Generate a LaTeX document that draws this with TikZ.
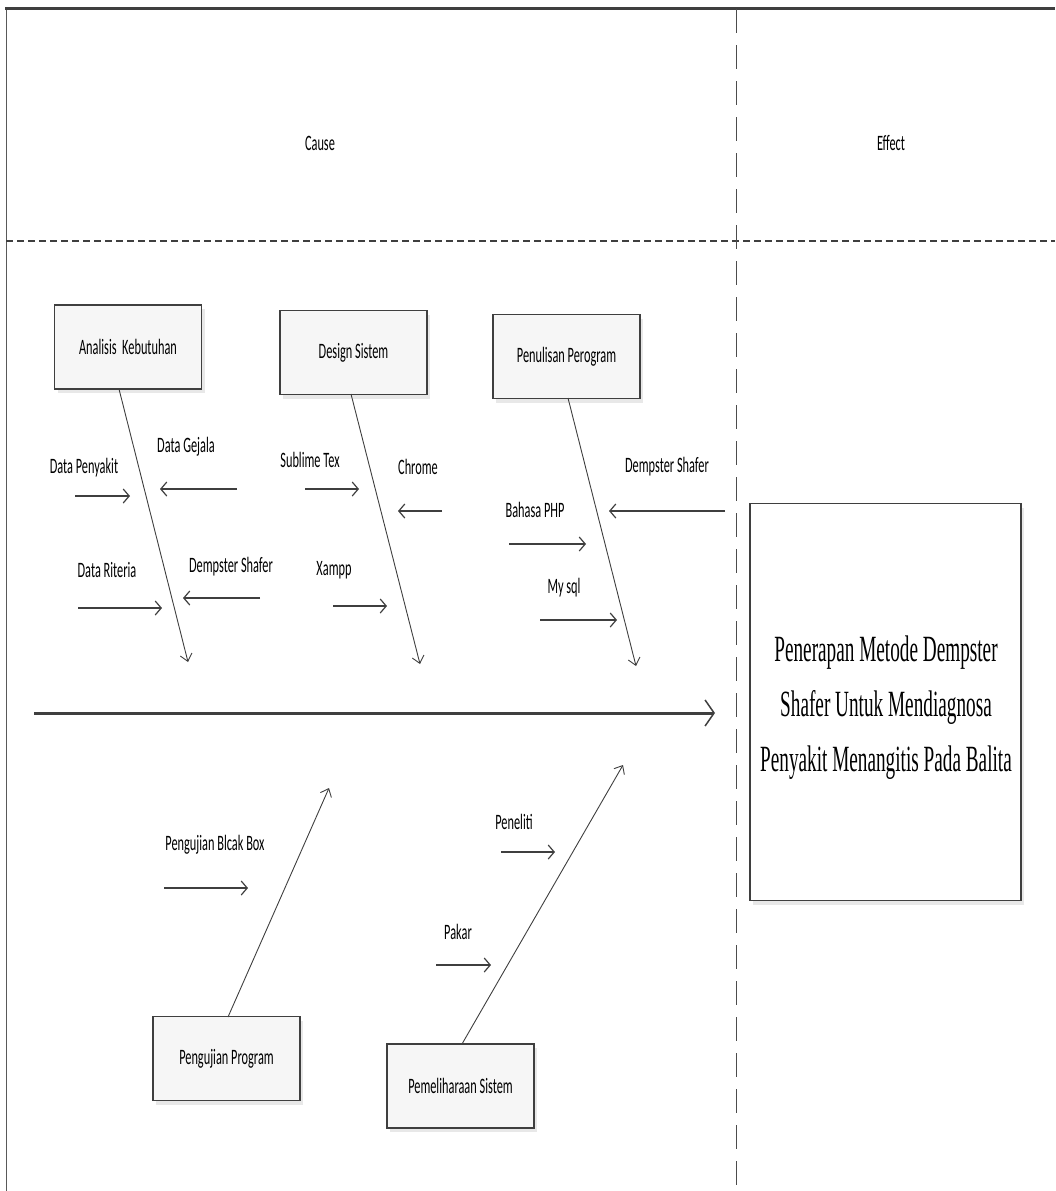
\documentclass[tikz,border=0pt]{standalone}
\usepackage{fontspec}
\setmainfont{Carlito}[FakeStretch=0.56]
\newfontfamily\effectfont{Liberation Serif}[FakeStretch=0.52]
\usetikzlibrary{arrows.meta,shadows}
\definecolor{linegray}{HTML}{3F3F3F}
\tikzset{
  bonebox/.style={draw=linegray, line width=1.6pt, fill=gray!7, minimum width=147pt, minimum height=84pt,
    inner sep=0pt, font=\fontsize{22}{26}\selectfont,
    drop shadow={opacity=0.18, shadow xshift=3pt, shadow yshift=-4pt}},
  lbl/.style={inner sep=0pt, font=\fontsize{22}{26}\selectfont},
  sub/.style={draw=linegray, line width=1.8pt, -{Straight Barb[length=6pt,width=14pt,line width=1.2pt]}},
  bone/.style={draw=linegray, line width=0.9pt, -{Straight Barb[length=7pt,width=12pt,line width=0.9pt]}},
  spine/.style={draw=linegray, line width=3pt, -{Straight Barb[length=9pt,width=26pt,line width=1.5pt]}},
}
\begin{document}
\begin{tikzpicture}[x=1pt,y=-1pt]
\useasboundingbox (0,0) rectangle (1055,1191);
% frame
\draw[gray!70!black, line width=1pt] (6,8) -- (6,1191);
\draw[linegray, line width=3pt] (5,8) -- (1055,8);
\draw[linegray, line width=2.4pt, dash pattern=on 7pt off 4pt] (6,241) -- (1055,241);
\draw[gray!60!black, line width=1pt, dash pattern=on 24pt off 12pt] (736,9) -- (736,1191);
\node[lbl] (cause) at (320,143) {Cause};
\node[lbl] (effect) at (891,143) {Effect};

% effect box
\node[draw=linegray, line width=1.6pt, fill=white, minimum width=271pt, minimum height=397pt, inner sep=0pt,
  drop shadow={opacity=0.18, shadow xshift=3pt, shadow yshift=-4pt}] (eff) at (885.5,702) {};
\node[inner sep=0pt, align=center, font=\effectfont\fontsize{37}{55}\selectfont] (efftext) at (886,708)
  {Penerapan Metode Dempster\\Shafer Untuk Mendiagnosa\\Penyakit Menangitis Pada Balita};

% spine
\coordinate (sp0) at (34,713);
\coordinate (sp1) at (715,713);
\draw[spine] (sp0) -- (sp1);

% top boxes
\node[bonebox] (ak) at (128,347) {Analisis\ \ Kebutuhan};
\node[bonebox] (ds) at (353.5,352.5) {Design Sistem};
\node[bonebox] (pp) at (566.5,356.5) {Penulisan Perogram};
\coordinate (akt) at (188,662);
\coordinate (dst) at (420,664);
\coordinate (ppt) at (636,666);
\draw[bone] (119,389) -- (akt);
\draw[bone] (351,394) -- (dst);
\draw[bone] (568,398) -- (ppt);

% bottom boxes
\node[bonebox] (pg) at (226.5,1058.5) {Pengujian Program};
\node[bonebox] (pm) at (460.5,1086) {Pemeliharaan Sistem};
\coordinate (pgt) at (329,788);
\coordinate (pmt) at (623,765);
\draw[bone] (228,1017) -- (pgt);
\draw[bone] (462,1044) -- (pmt);

% sub causes - Analisis Kebutuhan
\node[lbl] (l1) at (84,468) {Data Penyakit};
\coordinate (a1s) at (75,496); \coordinate (a1e) at (130,496);
\draw[sub] (a1s) -- (a1e);
\node[lbl] (l2) at (186,447) {Data Gejala};
\coordinate (a2s) at (237,489); \coordinate (a2e) at (160,489);
\draw[sub] (a2s) -- (a2e);
\node[lbl] (l3) at (107,570) {Data Riteria};
\coordinate (a3s) at (78,608); \coordinate (a3e) at (162,608);
\draw[sub] (a3s) -- (a3e);
\node[lbl] (l4) at (231,567) {Dempster Shafer};
\coordinate (a4s) at (260,598); \coordinate (a4e) at (183,598);
\draw[sub] (a4s) -- (a4e);

% Design Sistem
\node[lbl] (l5) at (310,460) {Sublime Tex};
\coordinate (a5s) at (305,489); \coordinate (a5e) at (359,489);
\draw[sub] (a5s) -- (a5e);
\node[lbl] (l6) at (418,467) {Chrome};
\coordinate (a6s) at (442,511); \coordinate (a6e) at (398,511);
\draw[sub] (a6s) -- (a6e);
\node[lbl] (l7) at (334,570) {Xampp};
\coordinate (a7s) at (333,606); \coordinate (a7e) at (387,606);
\draw[sub] (a7s) -- (a7e);

% Penulisan Perogram
\node[lbl] (l8) at (535,510) {Bahasa PHP};
\coordinate (a8s) at (509,544); \coordinate (a8e) at (586,544);
\draw[sub] (a8s) -- (a8e);
\node[lbl] (l9) at (564,588) {My sql};
\coordinate (a9s) at (540,620); \coordinate (a9e) at (617,620);
\draw[sub] (a9s) -- (a9e);
\node[lbl] (l10) at (667,467) {Dempster Shafer};
\coordinate (a10s) at (725,511); \coordinate (a10e) at (609,511);
\draw[sub] (a10s) -- (a10e);

% bottom
\node[lbl] (l11) at (215,845) {Pengujian Blcak Box};
\coordinate (a11s) at (164,888); \coordinate (a11e) at (248,888);
\draw[sub] (a11s) -- (a11e);
\node[lbl] (l12) at (514,822) {Peneliti};
\coordinate (a12s) at (501,852); \coordinate (a12e) at (555,852);
\draw[sub] (a12s) -- (a12e);
\node[lbl] (l13) at (458,932) {Pakar};
\coordinate (a13s) at (436,965); \coordinate (a13e) at (491,965);
\draw[sub] (a13s) -- (a13e);
\end{tikzpicture}
\end{document}
